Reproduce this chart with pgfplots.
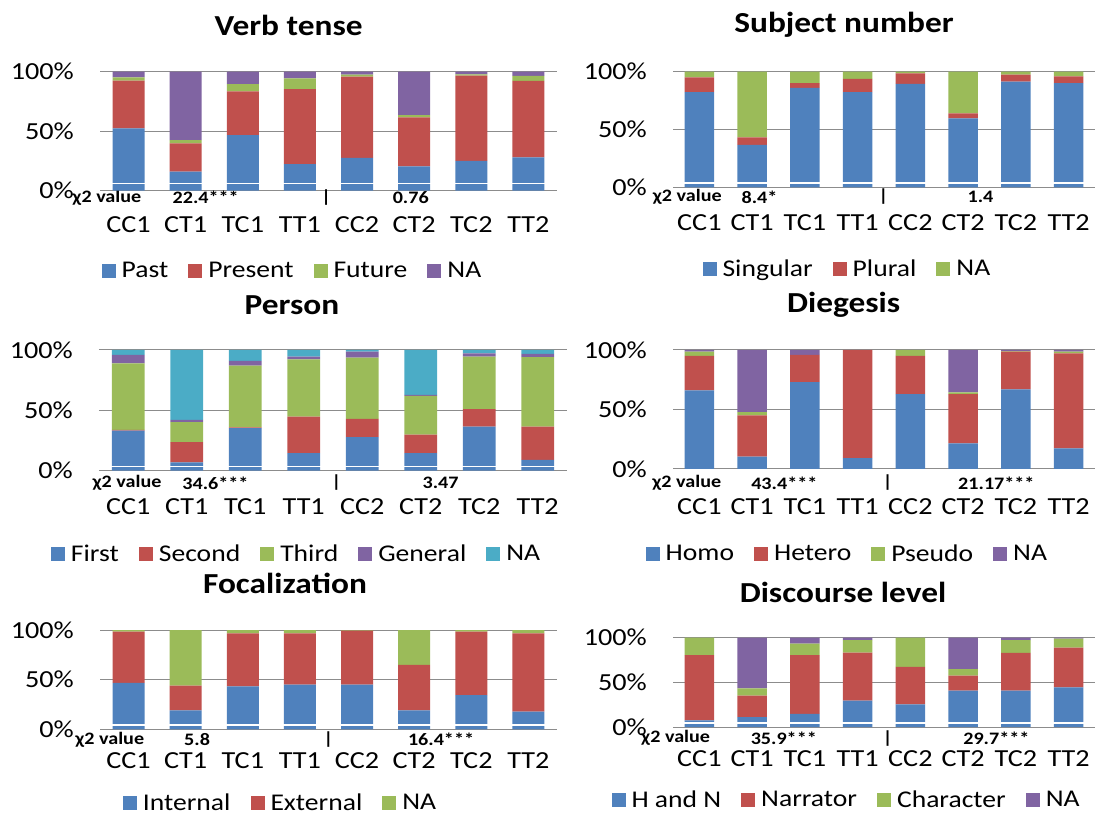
\documentclass[border=0pt]{standalone}
\usepackage{pgfplots}
\pgfplotsset{compat=1.18}
\usepackage{pgfplotstable}
\usepackage{fontspec}
\setmainfont[FakeStretch=1.15]{Carlito}
\definecolor{cblue}{HTML}{4F81BD}
\definecolor{cred}{HTML}{C0504D}
\definecolor{cgreen}{HTML}{9BBB59}
\definecolor{cpurple}{HTML}{8064A2}
\definecolor{caqua}{HTML}{4BACC6}
\definecolor{gridgray}{HTML}{8C8C8C}

\pgfplotstableread{
x a b c d
0 52.4 40.0 2.8 4.8
1 16.0 23.8 2.8 57.4
2 46.8 36.7 6.1 10.4
3 22.4 63.0 9.0 5.6
4 27.5 68.3 1.7 2.5
5 20.4 41.2 2.0 36.4
6 25.0 71.6 1.2 2.2
7 28.0 64.2 4.2 3.6
}\verbtense
\pgfplotstableread{
x a b c
0 82.4 12.8 4.8
1 36.9 6.3 56.8
2 86.1 4.0 9.9
3 82.4 11.4 6.2
4 89.5 9.1 1.4
5 59.7 4.2 36.1
6 91.5 5.9 2.6
7 90.1 5.9 4.0
}\subjnum
\pgfplotstableread{
x a b c d e
0 33.3 0.6 55.1 6.9 4.1
1 6.9 16.8 16.5 1.9 57.9
2 35.3 0.5 51.2 3.9 9.1
3 14.6 30.3 47.4 2.2 5.5
4 27.8 15.2 50.7 4.9 1.4
5 14.6 15.2 32.2 0.8 37.2
6 36.5 14.5 43.5 2.8 2.7
7 8.9 27.6 57.5 2.7 3.3
}\person
\pgfplotstableread{
x a b c d
0 66.0 29.0 3.6 1.4
1 10.5 34.5 2.8 52.2
2 73.0 23.0 0.0 4.0
3 9.1 90.9 0.0 0.0
4 63.0 32.0 5.0 0.0
5 21.5 41.5 1.4 35.6
6 66.9 31.7 0.4 1.0
7 17.4 79.8 1.4 1.4
}\diegesis
\pgfplotstableread{
x a b c
0 46.7 51.6 1.7
1 19.0 25.0 56.0
2 43.3 53.4 3.3
3 45.0 51.7 3.3
4 45.0 54.3 0.7
5 19.0 46.0 35.0
6 34.5 63.8 1.7
7 17.7 79.0 3.3
}\focal
\pgfplotstableread{
x a b c d
0 7.4 73.0 19.6 0.0
1 11.1 24.1 8.1 56.7
2 14.8 65.6 12.9 6.7
3 29.6 53.7 14.1 2.6
4 25.2 42.2 32.6 0.0
5 40.7 16.7 7.4 35.2
6 40.7 42.3 14.4 2.6
7 44.4 44.5 10.0 1.1
}\discourse

\pgfplotsset{
  panel/.style={
    scale only axis, ybar stacked, bar width=0.56,
    ymin=0, ymax=100, xmin=-0.5, xmax=7.5,
    xtick={0,...,7}, xticklabels={CC1,CT1,TC1,TT1,CC2,CT2,TC2,TT2},
    ytick={0,50,100}, yticklabels={0\%,50\%,100\%},
    ymajorgrids, grid style={draw=gridgray, line width=1pt},
    axis line style={draw=none}, major tick length=0pt,
    clip=false, anchor=south west,
    tick label style={font=\fontsize{24.5}{28}\selectfont},
    xticklabel style={anchor=center, inner sep=0pt},
    yticklabel style={anchor=east, inner sep=0pt, xshift=-26pt},
    legend columns=-1,
    legend style={draw=none, fill=none, anchor=center, inner sep=0pt,
      font=\fontsize{24}{28}\selectfont,
      nodes={inner sep=1pt},
      /tikz/every odd column/.append style={column sep=5pt},
      /tikz/every even column/.append style={column sep=19pt}},
    legend image code/.code={\fill[##1,draw=none] (0pt,-7pt) rectangle (14pt,7pt);},
  },
}
\tikzset{
  chi/.style={font=\bfseries\fontsize{17.5}{20}\selectfont, anchor=center, inner sep=0pt},
  ttl/.style={font=\bfseries\fontsize{29}{34}\selectfont, anchor=center},
  wl/.style={white, line width=1.3pt},
}

\begin{document}
\begin{tikzpicture}
\useasboundingbox (0,0) rectangle (1095pt,825pt);

% ---------- Verb tense ----------
\begin{axis}[panel, at={(100pt,634.3pt)}, width=457pt, height=119pt,
  xticklabel style={yshift=-34.3pt},
  legend style={at={(0.42,-0.675)}}]
\addplot[fill=cblue, draw=none] table[x=x,y=a]{\verbtense};
\addplot[fill=cred, draw=none] table[x=x,y=b]{\verbtense};
\addplot[fill=cgreen, draw=none] table[x=x,y=c]{\verbtense};
\addplot[fill=cpurple, draw=none] table[x=x,y=d]{\verbtense};
\legend{Past,Present,Future,NA}
\coordinate (w1a) at (axis cs:-0.5,6);
\coordinate (w1b) at (axis cs:7.5,6);
\node[chi, yshift=-7pt] at (axis cs:-0.38,0) {χ2 value};
\node[chi, yshift=-7pt] at (axis cs:1.35,0) {22.4***};
\node[chi, yshift=-7pt] at (axis cs:3.46,0) {|};
\node[chi, yshift=-7pt] at (axis cs:4.94,0) {0.76};
\end{axis}
\draw[wl] (w1a) -- (w1b);

% ---------- Subject number ----------
\begin{axis}[panel, at={(673pt,637.5pt)}, width=422pt, height=115.8pt,
  xticklabel style={yshift=-35.5pt},
  legend style={at={(0.412,-0.704)}}]
\addplot[fill=cblue, draw=none] table[x=x,y=a]{\subjnum};
\addplot[fill=cred, draw=none] table[x=x,y=b]{\subjnum};
\addplot[fill=cgreen, draw=none] table[x=x,y=c]{\subjnum};
\legend{Singular,Plural,NA}
\coordinate (w2a) at (axis cs:-0.5,4);
\coordinate (w2b) at (axis cs:7.5,4);
\node[chi, yshift=-9.5pt] at (axis cs:-0.23,0) {χ2 value};
\node[chi, yshift=-9.5pt] at (axis cs:1.14,0) {8.4*};
\node[chi, yshift=-9.5pt] at (axis cs:3.49,0) {|};
\node[chi, yshift=-9.5pt] at (axis cs:5.33,0) {1.4};
\end{axis}
\draw[wl] (w2a) -- (w2b);

% ---------- Person ----------
\begin{axis}[panel, at={(99pt,354.3pt)}, width=468pt, height=120.7pt,
  xticklabel style={yshift=-36.3pt},
  legend style={at={(0.421,-0.69)}}]
\addplot[fill=cblue, draw=none] table[x=x,y=a]{\person};
\addplot[fill=cred, draw=none] table[x=x,y=b]{\person};
\addplot[fill=cgreen, draw=none] table[x=x,y=c]{\person};
\addplot[fill=cpurple, draw=none] table[x=x,y=d]{\person};
\addplot[fill=caqua, draw=none] table[x=x,y=e]{\person};
\legend{First,Second,Third,General,NA}
\coordinate (w3a) at (axis cs:-0.5,3.3);
\coordinate (w3b) at (axis cs:7.5,3.3);
\node[chi, yshift=-12.3pt] at (axis cs:-0.02,0) {χ2 value};
\node[chi, yshift=-12.3pt] at (axis cs:1.49,0) {34.6***};
\node[chi, yshift=-12.3pt] at (axis cs:3.56,0) {|};
\node[chi, yshift=-12.3pt] at (axis cs:5.34,0) {3.47};
\end{axis}
\draw[wl, line width=1pt] (w3a) -- (w3b);

% ---------- Diegesis ----------
\begin{axis}[panel, at={(673pt,356pt)}, width=422pt, height=119pt,
  xticklabel style={yshift=-38pt},
  legend style={at={(0.412,-0.714)}}]
\addplot[fill=cblue, draw=none] table[x=x,y=a]{\diegesis};
\addplot[fill=cred, draw=none] table[x=x,y=b]{\diegesis};
\addplot[fill=cgreen, draw=none] table[x=x,y=c]{\diegesis};
\addplot[fill=cpurple, draw=none] table[x=x,y=d]{\diegesis};
\legend{Homo,Hetero,Pseudo,NA}
\node[chi, yshift=-14pt] at (axis cs:-0.24,0) {χ2 value};
\node[chi, yshift=-14pt] at (axis cs:1.61,0) {43.4***};
\node[chi, yshift=-14pt] at (axis cs:3.57,0) {|};
\node[chi, yshift=-14pt] at (axis cs:5.63,0) {21.17***};
\end{axis}

% ---------- Focalization ----------
\begin{axis}[panel, at={(100pt,95.7pt)}, width=457pt, height=99.3pt,
  xticklabel style={yshift=-31.2pt},
  legend style={at={(0.394,-0.742)}}]
\addplot[fill=cblue, draw=none] table[x=x,y=a]{\focal};
\addplot[fill=cred, draw=none] table[x=x,y=b]{\focal};
\addplot[fill=cgreen, draw=none] table[x=x,y=c]{\focal};
\legend{Internal,External,NA}
\coordinate (w5a) at (axis cs:-0.5,4.3);
\coordinate (w5b) at (axis cs:7.5,4.3);
\node[chi, yshift=-10.2pt] at (axis cs:-0.33,0) {χ2 value};
\node[chi, yshift=-10.2pt] at (axis cs:1.2,0) {5.8};
\node[chi, yshift=-10.2pt] at (axis cs:3.5,0) {|};
\node[chi, yshift=-10.2pt] at (axis cs:5.47,0) {16.4***};
\end{axis}
\draw[wl] (w5a) -- (w5b);

% ---------- Discourse level ----------
\begin{axis}[panel, at={(673pt,98pt)}, width=422pt, height=89.3pt,
  xticklabel style={yshift=-32pt},
  legend style={at={(0.41,-0.817)}}]
\addplot[fill=cblue, draw=none] table[x=x,y=a]{\discourse};
\addplot[fill=cred, draw=none] table[x=x,y=b]{\discourse};
\addplot[fill=cgreen, draw=none] table[x=x,y=c]{\discourse};
\addplot[fill=cpurple, draw=none] table[x=x,y=d]{\discourse};
\legend{H and N,Narrator,Character,NA}
\coordinate (w6a) at (axis cs:-0.5,4.5);
\coordinate (w6b) at (axis cs:7.5,4.5);
\node[chi, yshift=-11.3pt] at (axis cs:-0.45,0) {χ2 value};
\node[chi, yshift=-11.3pt] at (axis cs:1.6,0) {35.9***};
\node[chi, yshift=-11.3pt] at (axis cs:3.57,0) {|};
\node[chi, yshift=-11.3pt] at (axis cs:5.63,0) {29.7***};
\end{axis}
\draw[wl] (w6a) -- (w6b);

% ---------- Titles ----------
\node[ttl] at (288.6pt,800pt) {Verb tense};
\node[ttl] at (844pt,800pt) {Subject number};
\node[ttl] at (292pt,520pt) {Person};
\node[ttl] at (843.6pt,520pt) {Diegesis};
\node[ttl] at (285pt,242pt) {Focalization};
\node[ttl] at (843pt,233pt) {Discourse level};
\end{tikzpicture}
\end{document}
